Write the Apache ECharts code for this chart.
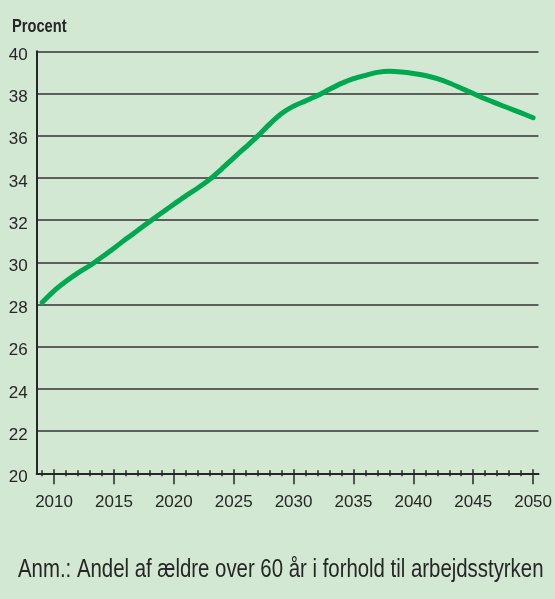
<!DOCTYPE html>
<html>
<head>
<meta charset="utf-8">
<script src="https://cdn.jsdelivr.net/npm/echarts@6/dist/echarts.min.js"></script>
<style>
  html, body { margin: 0; padding: 0; background: #d2e8d2; }
  #chart { width: 555px; height: 599px; }
</style>
</head>
<body>
<div id="chart"></div>
<script>
// andel af ældre over 60 år i forhold til arbejdsstyrken, procent
var years = [2009, 2010, 2011, 2012, 2013, 2014, 2015, 2016, 2017, 2018, 2019,
  2020, 2021, 2022, 2023, 2024, 2025, 2026, 2027, 2028, 2029,
  2030, 2031, 2032, 2033, 2034, 2035, 2036, 2037, 2038, 2039,
  2040, 2041, 2042, 2043, 2044, 2045, 2046, 2047, 2048, 2049, 2050];
var share = [28.1, 28.65, 29.1, 29.5, 29.85, 30.25, 30.67, 31.1, 31.52, 31.94, 32.35,
  32.75, 33.15, 33.52, 33.93, 34.43, 34.95, 35.46, 35.98, 36.55, 37.05,
  37.4, 37.65, 37.9, 38.2, 38.48, 38.7, 38.86, 39.0, 39.05, 39.02,
  38.95, 38.85, 38.7, 38.5, 38.25, 38.0, 37.75, 37.52, 37.3, 37.08, 36.85];
var majorYears = [2010, 2015, 2020, 2025, 2030, 2035, 2040, 2045, 2050];
var minorYears = years.filter(function (y) { return majorYears.indexOf(y) < 0; });

var font = 'Liberation Sans';
var ink = '#262626';
var narrow = 0.815; // the original uses a narrow face

var chart = echarts.init(document.getElementById('chart'), null, { renderer: 'canvas' });

function tickAxis(vals, len, inside, withLine) {
  return {
    type: 'value',
    position: 'bottom',
    min: 2008.55,
    max: 2050.45,
    axisLine: { show: !!withLine, lineStyle: { color: ink, width: 2 } },
    axisTick: {
      show: true,
      customValues: vals,
      inside: inside,
      length: len,
      lineStyle: { color: ink, width: 1.5 }
    },
    axisLabel: withLine ? {
      customValues: majorYears,
      margin: 21,
      color: ink,
      fontFamily: font,
      fontSize: 17,
      formatter: function (v) { return String(v); }
    } : { show: false },
    splitLine: { show: false }
  };
}

var option = {
  backgroundColor: '#d2e8d2',
  animation: false,
  graphic: [{
    type: 'text',
    left: 12,
    top: 18,
    scaleX: narrow,
    style: {
      text: 'Procent',
      fontFamily: font,
      fontSize: 18,
      fontWeight: 'bold',
      fill: ink
    }
  }, {
    type: 'text',
    x: 18,
    y: 570,
    scaleX: narrow,
    style: {
      text: 'Anm.: Andel af ældre over 60 år i forhold til arbejdsstyrken',
      fontFamily: font,
      fontSize: 25,
      fill: ink,
      verticalAlign: 'middle'
    }
  }],
  grid: { left: 36.7, right: 14.5, top: 51.3, bottom: 125.7 },
  xAxis: [
    tickAxis(majorYears, 11, false, true),
    tickAxis(majorYears, 4, true, false),
    tickAxis(minorYears, 3, true, false),
    tickAxis(minorYears, 3, false, false)
  ],
  yAxis: {
    type: 'value',
    min: 20,
    max: 40,
    interval: 2,
    axisLine: { show: true, lineStyle: { color: ink, width: 2 } },
    axisTick: { show: false },
    axisLabel: {
      margin: 9,
      color: ink,
      fontFamily: font,
      fontSize: 17,
      verticalAlign: 'top',
      lineHeight: 8
    },
    splitLine: { show: true, lineStyle: { color: '#333333', width: 1.6 } }
  },
  series: [{
    type: 'line',
    xAxisIndex: 0,
    data: years.map(function (y, i) { return [y, share[i]]; }),
    showSymbol: false,
    smooth: 0.3,
    lineStyle: { color: '#00a84f', width: 5, cap: 'round', join: 'round' }
  }]
};

chart.setOption(option);
</script>
</body>
</html>
